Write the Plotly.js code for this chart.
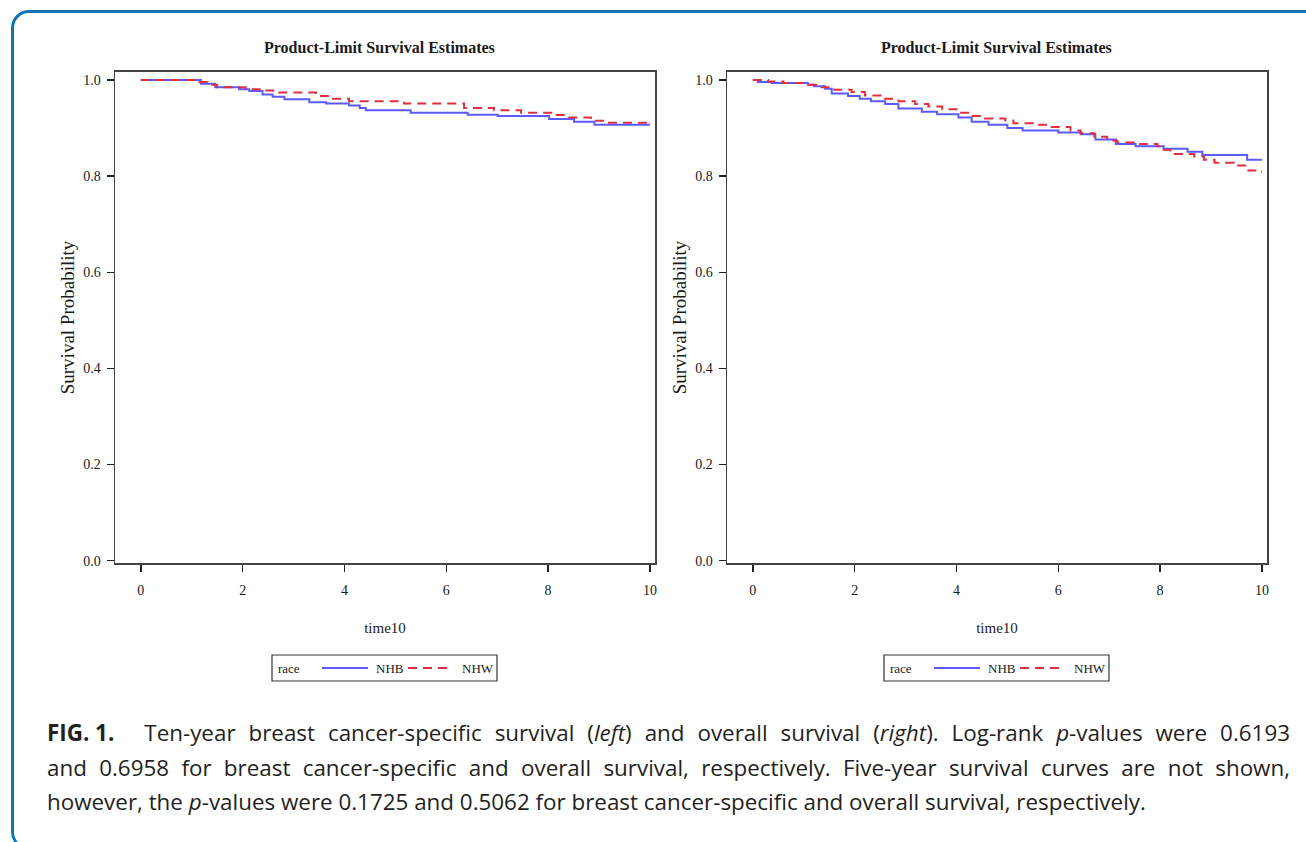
<!DOCTYPE html>
<html>
<head>
<meta charset="utf-8">
<script src="https://cdn.plot.ly/plotly-3.0.1.min.js"></script>
<style>
  html, body { margin:0; padding:0; background:#fff; }
  #wrap { position:relative; width:1306px; height:842px; overflow:hidden; background:#fff; }
  #chart { position:absolute; left:0; top:0; width:1306px; height:842px; }
  #frame { position:absolute; left:11px; top:10px; width:1320px; height:840px;
           border:3px solid #0e76b3; border-radius:18px; box-sizing:border-box; pointer-events:none; }
  #caption { position:absolute; left:47px; top:716px; width:1243px; font-family:"Open Sans", sans-serif;
             font-size:22.4px; color:#231f20; }
  .cl { height:34.5px; line-height:34.5px; white-space:nowrap; }
  .cl span.inner { display:inline-block; white-space:nowrap; }
</style>
</head>
<body>
<div id="wrap">
  <div id="chart"></div>
  <div id="frame"></div>
  <div id="caption">
    <div class="cl" data-just="1"><span class="inner"><b style="word-spacing:0">FIG. 1.</b><span style="display:inline-block;width:30px"></span>Ten-year breast cancer-specific survival (<i>left</i>) and overall survival (<i>right</i>). Log-rank <i>p</i>-values were 0.6193</span></div>
    <div class="cl" data-just="1"><span class="inner">and 0.6958 for breast cancer-specific and overall survival, respectively. Five-year survival curves are not shown,</span></div>
    <div class="cl"><span class="inner">however, the <i>p</i>-values were 0.1725 and 0.5062 for breast cancer-specific and overall survival, respectively.</span></div>
  </div>
</div>
<script>
// ---- Data ----
const seriesNames = ["NHB", "NHW"];
const legendTitle = "race";
const xTicks = [0, 2, 4, 6, 8, 10];
const yTicks = [0.0, 0.2, 0.4, 0.6, 0.8, 1.0];

// Left panel: breast cancer-specific survival
const bcssNHB_t = [0, 1.18, 1.46, 1.93, 2.13, 2.39, 2.59, 2.82, 3.31, 3.64, 4.09, 4.30, 4.42, 5.30, 6.42, 7.01, 8.02, 8.51, 8.91, 10.0];
const bcssNHB_s = [1.0, 0.992, 0.985, 0.981, 0.977, 0.970, 0.965, 0.960, 0.954, 0.951, 0.947, 0.942, 0.937, 0.932, 0.928, 0.925, 0.919, 0.913, 0.907, 0.907];
const bcssNHW_t = [0, 1.15, 1.31, 1.50, 2.06, 2.39, 2.60, 3.44, 3.70, 4.09, 5.17, 6.35, 6.94, 7.47, 8.06, 8.40, 8.84, 9.10, 10.0];
const bcssNHW_s = [1.0, 0.996, 0.990, 0.985, 0.981, 0.978, 0.974, 0.967, 0.961, 0.956, 0.951, 0.942, 0.937, 0.932, 0.927, 0.922, 0.915, 0.911, 0.911];

// Right panel: overall survival
const osNHB_t = [0, 0.10, 0.37, 1.08, 1.20, 1.42, 1.55, 1.87, 2.10, 2.32, 2.60, 2.86, 3.32, 3.62, 4.04, 4.30, 4.63, 5.00, 5.30, 6.00, 6.44, 6.73, 7.13, 7.52, 8.07, 8.54, 8.83, 9.71, 10.0];
const osNHB_s = [1.0, 0.996, 0.994, 0.990, 0.987, 0.982, 0.972, 0.967, 0.961, 0.956, 0.950, 0.941, 0.934, 0.929, 0.922, 0.913, 0.907, 0.900, 0.895, 0.891, 0.887, 0.876, 0.867, 0.862, 0.857, 0.851, 0.844, 0.834, 0.834];
const osNHW_t = [0, 0.30, 0.60, 1.08, 1.30, 1.60, 1.94, 2.20, 2.53, 2.86, 3.19, 3.45, 3.72, 4.04, 4.30, 4.56, 4.96, 5.12, 5.50, 5.85, 6.24, 6.44, 6.71, 6.96, 7.16, 7.48, 7.95, 8.07, 8.20, 8.67, 8.86, 9.07, 9.45, 9.71, 9.90, 10.0];
const osNHW_s = [1.0, 0.997, 0.994, 0.990, 0.985, 0.980, 0.975, 0.968, 0.961, 0.956, 0.950, 0.945, 0.939, 0.932, 0.925, 0.920, 0.916, 0.910, 0.907, 0.902, 0.895, 0.889, 0.882, 0.874, 0.870, 0.867, 0.862, 0.855, 0.846, 0.841, 0.834, 0.828, 0.822, 0.812, 0.809, 0.809];

// ---- Styles ----
const SERIF = "Liberation Serif, Times New Roman, serif";
const BLUE = "#5b5bff";
const RED = "#e0303f";
const DASH = "9px,6px";
const TXT = "#1a1a1a";

function mk(t, s, name, xa, ya, color, dash) {
  return { x: t, y: s, name: name, type: "scatter", mode: "lines", xaxis: xa, yaxis: ya, showlegend: false,
           line: { shape: "hv", color: color, width: 2, dash: dash }, hoverinfo: "skip" };
}

const traces = [
  mk(bcssNHB_t, bcssNHB_s, seriesNames[0], "x", "y", BLUE, "solid"),
  mk(bcssNHW_t, bcssNHW_s, seriesNames[1], "x", "y", RED, DASH),
  mk(osNHB_t, osNHB_s, seriesNames[0], "x2", "y2", BLUE, "solid"),
  mk(osNHW_t, osNHW_s, seriesNames[1], "x2", "y2", RED, DASH)
];

const W = 1306, H = 842;
const px = v => v / W, py = v => 1 - v / H;

function xax(dom, anchor) {
  return { domain: dom, anchor: anchor, range: [-0.507, 10.1], tickvals: xTicks, ticktext: xTicks.map(String),
    ticks: "outside", ticklen: 7, tickwidth: 1.5, tickcolor: "#222", showline: true, mirror: true,
    linecolor: "#444", linewidth: 1.5, showgrid: false, zeroline: false, ticklabelstandoff: 6,
    tickfont: { family: SERIF, size: 14, color: TXT },
    title: { text: "time10", font: { family: SERIF, size: 15, color: TXT }, standoff: 26 } };
}
function yax(anchor) {
  return { domain: [py(563.3), py(71.7)], anchor: anchor, range: [-0.0054, 1.0173], tickvals: yTicks,
    ticktext: yTicks.map(v => v.toFixed(1)),
    ticks: "outside", ticklen: 7, tickwidth: 1.5, tickcolor: "#222", showline: true, mirror: true,
    linecolor: "#444", linewidth: 1.5, showgrid: false, zeroline: false, ticklabelstandoff: 3,
    tickfont: { family: SERIF, size: 14, color: TXT },
    title: { text: "Survival Probability", font: { family: SERIF, size: 19, color: TXT }, standoff: 3 } };
}

// hand-drawn legend boxes (SAS style)
const shapes = [], annotations = [];
function legendAt(x0) {
  const yc = py(668);
  shapes.push({ type: "rect", xref: "paper", yref: "paper", x0: px(x0), x1: px(x0 + 225), y0: py(681), y1: py(655),
                line: { color: "#333", width: 1.2 }, fillcolor: "rgba(0,0,0,0)" });
  shapes.push({ type: "line", xref: "paper", yref: "paper", x0: px(x0 + 50), x1: px(x0 + 96), y0: yc, y1: yc,
                line: { color: BLUE, width: 2 } });
  shapes.push({ type: "line", xref: "paper", yref: "paper", x0: px(x0 + 136), x1: px(x0 + 181), y0: yc, y1: yc,
                line: { color: RED, width: 2, dash: DASH } });
  const f = { family: SERIF, size: 13, color: TXT };
  annotations.push({ text: legendTitle, xref: "paper", yref: "paper", x: px(x0 + 4), y: yc, xanchor: "left", yanchor: "middle", showarrow: false, font: f });
  annotations.push({ text: seriesNames[0], xref: "paper", yref: "paper", x: px(x0 + 102), y: yc, xanchor: "left", yanchor: "middle", showarrow: false, font: f });
  annotations.push({ text: seriesNames[1], xref: "paper", yref: "paper", x: px(x0 + 188), y: yc, xanchor: "left", yanchor: "middle", showarrow: false, font: f });
}
legendAt(272);
legendAt(884);

const tf = { family: SERIF, size: 16, color: TXT };
annotations.push({ text: "<b>Product-Limit Survival Estimates</b>", xref: "paper", yref: "paper", x: px(379), y: py(48),
  xanchor: "center", yanchor: "middle", showarrow: false, font: tf });
annotations.push({ text: "<b>Product-Limit Survival Estimates</b>", xref: "paper", yref: "paper", x: px(996), y: py(48),
  xanchor: "center", yanchor: "middle", showarrow: false, font: tf });

const layout = {
  width: W, height: H, margin: { l: 0, r: 0, t: 0, b: 0 },
  paper_bgcolor: "#fff", plot_bgcolor: "#fff", showlegend: false,
  xaxis: xax([px(115), px(655)], "y"),
  yaxis: yax("x"),
  xaxis2: xax([px(727), px(1267)], "y2"),
  yaxis2: yax("x2"),
  shapes: shapes,
  annotations: annotations
};

Plotly.newPlot("chart", traces, layout, { staticPlot: true, displayModeBar: false });

// justify caption lines 1 and 2 to the full text width
document.querySelectorAll('#caption .cl[data-just]').forEach(function(div){
  const inner = div.querySelector('.inner');
  const target = 1243;
  const w = inner.getBoundingClientRect().width;
  const txt = inner.textContent;
  const bolds = inner.querySelectorAll('b');
  let fixed = 0;
  bolds.forEach(b => { fixed += (b.textContent.match(/ /g) || []).length; });
  const spaces = (txt.match(/ /g) || []).length - fixed;
  if (spaces > 0) inner.style.wordSpacing = ((target - w) / spaces) + "px";
});
</script>
</body>
</html>
